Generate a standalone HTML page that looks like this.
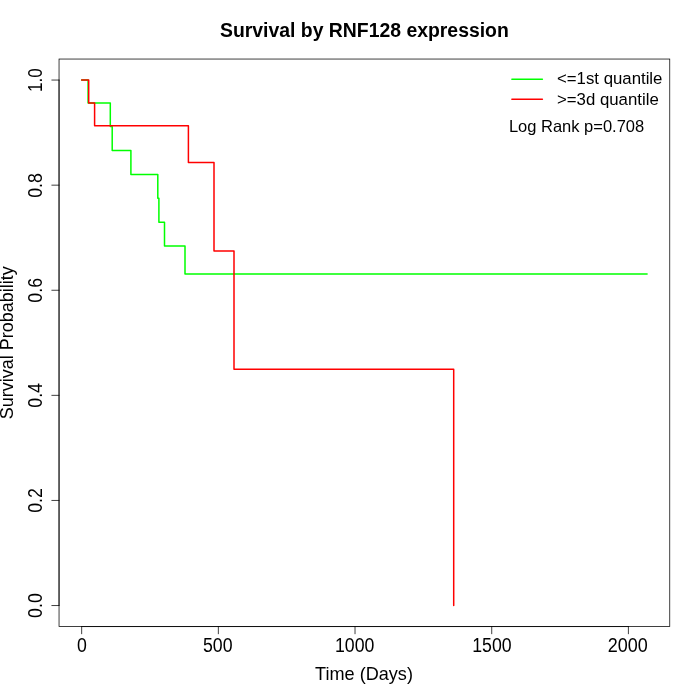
<!DOCTYPE html>
<html>
<head>
<meta charset="utf-8">
<title>Survival by RNF128 expression</title>
<style>
html,body{margin:0;padding:0;background:#fff;}
body{width:700px;height:700px;overflow:hidden;}
svg{display:block;}
text{font-family:"Liberation Sans",Arial,Helvetica,sans-serif;fill:#000;}
</style>
</head>
<body>
<svg width="700" height="700" viewBox="0 0 700 700">
<rect x="0" y="0" width="700" height="700" fill="#fff"/>
<!-- curves -->
<g fill="none" stroke-width="1.5" stroke-linecap="round" stroke-linejoin="round">
<polyline stroke="#00ff00" points="81.66,80.06 88.1,80.06 88.1,102.9 110.3,102.9 110.3,126.4 112.2,126.4 112.2,150.4 130.9,150.4 130.9,174.4 157.8,174.4 157.8,198.3 158.9,198.3 158.9,222.3 164.5,222.3 164.5,246.1 185,246.1 185,274 647.1,274"/>
<polyline stroke="#ff0000" points="81.66,80.06 88.7,80.06 88.7,102.9 94.6,102.9 94.6,125.7 188.4,125.7 188.4,162.4 214,162.4 214,250.9 234,250.9 234,369.3 453.7,369.3 453.7,605.54"/>
</g>
<!-- axes -->
<g fill="none" stroke="#000" stroke-width="0.75" stroke-linecap="round">
<path d="M81.66,626.56H628.4M81.66,626.56v7.2M218.35,626.56v7.2M355.03,626.56v7.2M491.72,626.56v7.2M628.4,626.56v7.2"/>
<path d="M59.04,605.54V80.06M59.04,605.54h-7.2M59.04,500.44h-7.2M59.04,395.35h-7.2M59.04,290.25h-7.2M59.04,185.16h-7.2M59.04,80.06h-7.2"/>
<rect x="59.04" y="59.04" width="610.72" height="567.52"/>
</g>
<!-- x tick labels -->
<g font-size="18" text-anchor="middle">
<text transform="translate(81.96,652) scale(0.985,1.09)">0</text>
<text transform="translate(217.8,652) scale(0.985,1.09)">500</text>
<text transform="translate(354.7,652) scale(0.985,1.09)">1000</text>
<text transform="translate(491.9,652) scale(0.985,1.09)">1500</text>
<text transform="translate(627.7,652) scale(1,1.09)">2000</text>
</g>
<!-- y tick labels -->
<g font-size="18" text-anchor="middle">
<text transform="translate(42,605.54) rotate(-90) scale(0.99,1.08)">0.0</text>
<text transform="translate(42,500.44) rotate(-90) scale(0.99,1.08)">0.2</text>
<text transform="translate(42,395.35) rotate(-90) scale(0.99,1.08)">0.4</text>
<text transform="translate(42,290.25) rotate(-90) scale(0.99,1.08)">0.6</text>
<text transform="translate(42,185.45) rotate(-90) scale(0.99,1.08)">0.8</text>
<text transform="translate(42,80.2) rotate(-90) scale(0.95,1.08)">1.0</text>
</g>
<!-- titles -->
<text x="364.4" y="36.6" font-size="19.4" font-weight="bold" text-anchor="middle">Survival by RNF128 expression</text>
<text transform="translate(364.0,680.2) scale(1.006,1.04)" font-size="18" text-anchor="middle">Time (Days)</text>
<text transform="translate(13,342.8) rotate(-90)" font-size="18" text-anchor="middle">Survival Probability</text>
<!-- legend -->
<g fill="none" stroke-width="1.5" stroke-linecap="round">
<line x1="511.9" y1="79.2" x2="542.4" y2="79.2" stroke="#00ff00"/>
<line x1="511.9" y1="99.36" x2="542.4" y2="99.36" stroke="#ff0000"/>
</g>
<g font-size="16.8">
<text x="557" y="84.4">&lt;=1st quantile</text>
<text x="557" y="104.5">&gt;=3d quantile</text>
<text x="508.9" y="131.6" font-size="16.5">Log Rank p=0.708</text>
</g>
</svg>
</body>
</html>
